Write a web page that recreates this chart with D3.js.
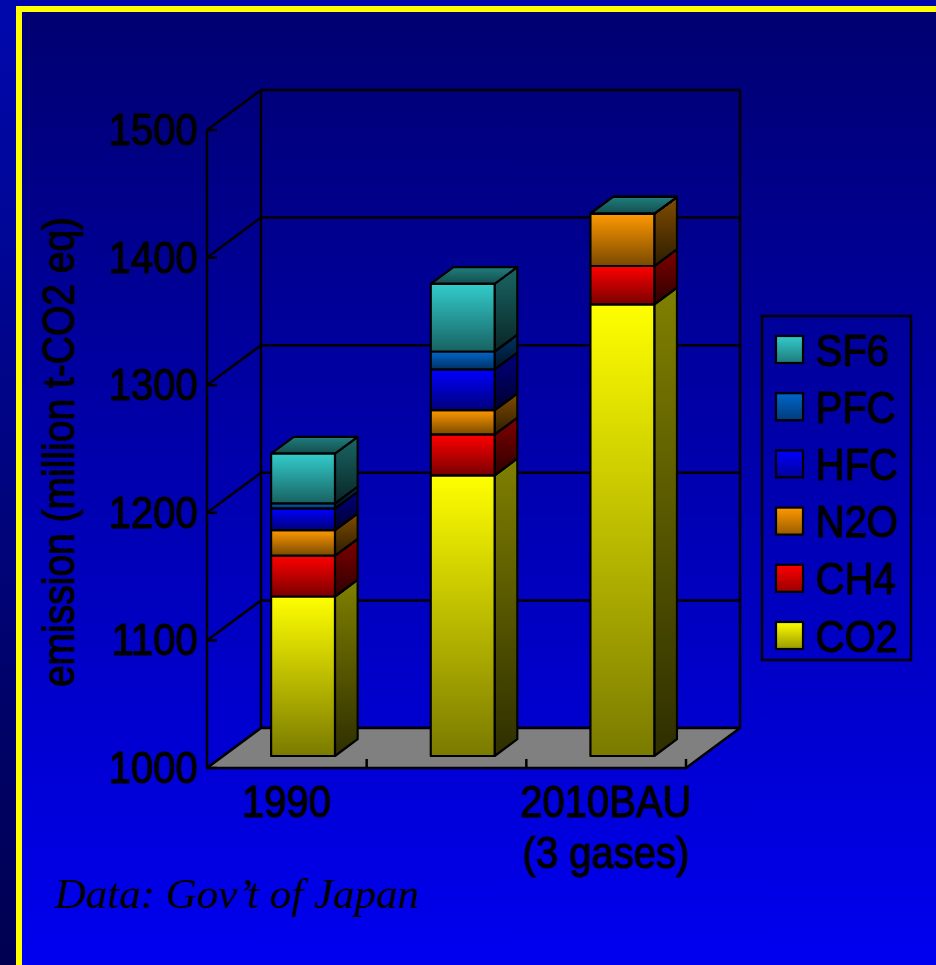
<!DOCTYPE html>
<html>
<head>
<meta charset="utf-8">
<script src="https://cdn.jsdelivr.net/npm/d3@7"></script>
<style>
  html, body { margin: 0; padding: 0; background: #000060; overflow: hidden; }
  svg { display: block; }
</style>
</head>
<body>
<svg id="chart" width="936" height="965"></svg>
<script>
// Greenhouse gas emissions in Japan, stacked by gas (million t-CO2 eq)
const categoryLabels = [["1990"], [], ["2010BAU", "(3 gases)"]];
const gases = ["CO2", "CH4", "N2O", "HFC", "PFC", "SF6"];
const co2 = [1125, 1220, 1354];
const ch4 = [32, 32, 30];
const n2o = [20, 19, 41];
const hfc = [17, 32, 0];
const pfc = [4, 14, 0];
const sf6 = [39, 53, 0];
const gasColors = ["#ffff00", "#ff0000", "#ff9900", "#0000ff", "#0066cc", "#33cccc"];
const yTicks = [1000, 1100, 1200, 1300, 1400, 1500];
const axisTitle = "emission (million t-CO2 eq)";
const sourceNote = "Data: Gov\u2019t of Japan";

const W = 936, H = 965;
const svg = d3.select("#chart");
const defs = svg.append("defs");

// ---------- slide background ----------
const outerGrad = defs.append("linearGradient").attr("id", "outerBg")
  .attr("x1", 0).attr("y1", 0).attr("x2", 0).attr("y2", 1);
outerGrad.append("stop").attr("offset", 0).attr("stop-color", "#0008ac");
outerGrad.append("stop").attr("offset", 1).attr("stop-color", "#000050");
const innerGrad = defs.append("linearGradient").attr("id", "innerBg")
  .attr("x1", 0).attr("y1", 0).attr("x2", 0).attr("y2", 1);
innerGrad.append("stop").attr("offset", 0).attr("stop-color", "#000070");
innerGrad.append("stop").attr("offset", 1).attr("stop-color", "#0000f6");

svg.append("rect").attr("width", W).attr("height", H).attr("fill", "url(#outerBg)");
svg.append("rect").attr("x", 19).attr("y", 9).attr("width", W + 40).attr("height", H + 40)
  .attr("fill", "url(#innerBg)").attr("stroke", "#ffff00").attr("stroke-width", 6);

// ---------- scales & 3D projection ----------
const DX = 54, DY = -40;            // depth vector of the floor
const D0 = 0.3, D1 = 0.72;          // bar front / back depth fractions
const x = d3.scaleBand().domain(d3.range(co2.length)).range([207, 686]);
const y = d3.scaleLinear().domain([1000, 1500]).range([768, 130]);
const proj = (px, v, d) => [px + DX * d, y(v) + DY * d];
const barW = x.bandwidth() * 0.4;

const g = svg.append("g");
const lineStyle = sel => sel.attr("stroke", "#000").attr("stroke-width", 2.5).attr("fill", "none");

// back wall gridlines and frame
const xL = x.range()[0], xR = x.range()[1];
yTicks.forEach(v => {
  const a = proj(xL, v, 1), b = proj(xR, v, 1);
  g.append("line").attr("x1", a[0]).attr("y1", a[1]).attr("x2", b[0]).attr("y2", b[1]).call(lineStyle);
  const c = proj(xL, v, 0);
  g.append("line").attr("x1", c[0]).attr("y1", c[1]).attr("x2", a[0]).attr("y2", a[1]).call(lineStyle);
});
[xL, xR].forEach(px => {
  const a = proj(px, 1000, 1), b = proj(px, 1500, 1);
  g.append("line").attr("x1", a[0]).attr("y1", a[1]).attr("x2", b[0]).attr("y2", b[1]).call(lineStyle);
});

// floor
const floorPts = [proj(xL, 1000, 0), proj(xR, 1000, 0), proj(xR, 1000, 1), proj(xL, 1000, 1)];
g.append("polygon").attr("points", floorPts.map(p => p.join(",")).join(" "))
  .attr("fill", "#808080").attr("stroke", "#000").attr("stroke-width", 2.5).attr("stroke-linejoin", "round");

// front value axis
g.append("line").attr("x1", xL).attr("y1", y(1000)).attr("x2", xL).attr("y2", y(1500)).call(lineStyle);
yTicks.forEach(v => {
  g.append("line").attr("x1", xL).attr("y1", y(v)).attr("x2", xL + 10).attr("y2", y(v)).call(lineStyle);
});
// category ticks on the floor edge
x.domain().forEach(i => {
  const px = x(i) + x.bandwidth();
  g.append("line").attr("x1", px).attr("y1", y(1000)).attr("x2", px).attr("y2", y(1000) - 9).call(lineStyle);
});

// ---------- gradients for bar faces ----------
function shade(c, k) {
  const col = d3.rgb(c);
  return d3.rgb(col.r * k, col.g * k, col.b * k).formatHex();
}
gasColors.forEach((c, k) => {
  const mk = (id, top, bottom) => {
    const gr = defs.append("linearGradient").attr("id", id)
      .attr("x1", 0).attr("y1", 0).attr("x2", 0).attr("y2", 1);
    gr.append("stop").attr("offset", 0).attr("stop-color", top);
    gr.append("stop").attr("offset", 1).attr("stop-color", bottom);
  };
  mk("front" + k, c, shade(c, 0.48));
  mk("side" + k, shade(c, 0.5), shade(c, 0.18));
  mk("top" + k, shade(c, 0.62), shade(c, 0.38));
  mk("leg" + k, c, shade(c, 0.6));
});

// ---------- stacked 3D bars ----------
const rows = co2.map((_, i) => ({
  CO2: co2[i], CH4: ch4[i], N2O: n2o[i], HFC: hfc[i], PFC: pfc[i], SF6: sf6[i]
}));
const series = d3.stack().keys(gases)(rows);
const poly = pts => pts.map(p => p.join(",")).join(" ");

x.domain().forEach(i => {
  const cx = x(i) + x.bandwidth() / 2;
  const L = cx - barW / 2, R = cx + barW / 2;
  series.forEach((s, k) => {
    const v0 = Math.max(1000, s[i][0]), v1 = Math.max(1000, s[i][1]);
    const bg = g.append("g").attr("stroke", "#000").attr("stroke-width", 2.2).attr("stroke-linejoin", "round");
    bg.append("polygon")
      .attr("points", poly([proj(R, v0, D0), proj(R, v0, D1), proj(R, v1, D1), proj(R, v1, D0)]))
      .attr("fill", v1 > v0 ? `url(#side${k})` : shade(gasColors[k], 0.4));
    bg.append("polygon")
      .attr("points", poly([proj(L, v1, D0), proj(R, v1, D0), proj(R, v1, D1), proj(L, v1, D1)]))
      .attr("fill", `url(#top${k})`);
    bg.append("polygon")
      .attr("points", poly([proj(L, v0, D0), proj(R, v0, D0), proj(R, v1, D0), proj(L, v1, D0)]))
      .attr("fill", v1 > v0 ? `url(#front${k})` : gasColors[k]);
  });
});

// ---------- text ----------
const sans = "'Liberation Sans', Arial, Helvetica, sans-serif";
const STRETCH = 1.1;
const heavy = sel => sel.attr("fill", "#000").attr("stroke", "#000").attr("stroke-width", 1)
  .attr("stroke-linejoin", "round");

yTicks.forEach(v => {
  svg.append("text")
    .attr("transform", `translate(${xL - 9},${y(v) + 15}) scale(1,${STRETCH})`)
    .attr("text-anchor", "end").attr("font-family", sans).attr("font-size", 40)
    .call(heavy).text(v);
});

categoryLabels.forEach((lines, i) => {
  const cx = x(i) + x.bandwidth() / 2;
  lines.forEach((t, j) => {
    svg.append("text")
      .attr("transform", `translate(${cx},${817 + j * 51}) scale(1,${STRETCH})`)
      .attr("text-anchor", "middle").attr("font-family", sans).attr("font-size", 40)
      .call(heavy).text(t);
  });
});

svg.append("text")
  .attr("transform", `translate(74,${(y(1000) + y(1500)) / 2 + 3}) rotate(-90) scale(1,1.15)`)
  .attr("text-anchor", "middle").attr("font-family", sans).attr("font-size", 39)
  .call(heavy).text(axisTitle);

svg.append("text")
  .attr("x", 55).attr("y", 908)
  .attr("font-family", "'Liberation Serif', 'Times New Roman', serif")
  .attr("font-style", "italic").attr("font-size", 43)
  .attr("fill", "#000").text(sourceNote);

// ---------- legend ----------
const legend = svg.append("g");
legend.append("rect").attr("x", 762).attr("y", 316).attr("width", 149).attr("height", 344)
  .attr("fill", "none").attr("stroke", "#000").attr("stroke-width", 2.5);
const legendOrder = gases.map((gname, k) => ({ gname, k })).reverse();
const rowY = d3.scalePoint().domain(legendOrder.map(d => d.gname)).range([349.5, 635.5]);
legendOrder.forEach(d => {
  const cy = rowY(d.gname);
  legend.append("rect").attr("x", 776).attr("y", cy - 13.5).attr("width", 27).attr("height", 27)
    .attr("fill", `url(#leg${d.k})`).attr("stroke", "#000").attr("stroke-width", 2.2);
  legend.append("text")
    .attr("transform", `translate(816,${cy + 16}) scale(1,${STRETCH})`)
    .attr("font-family", sans).attr("font-size", 40).call(heavy).text(d.gname);
});
</script>
</body>
</html>
